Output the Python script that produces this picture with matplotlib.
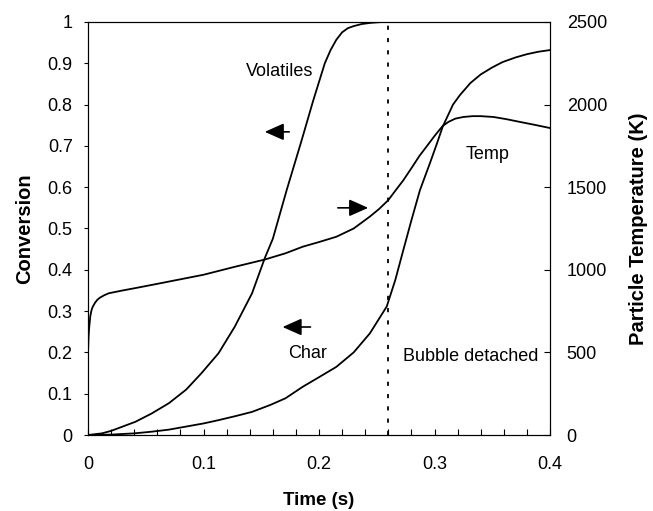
import numpy as np
import matplotlib
matplotlib.use('Agg')
from matplotlib import pyplot as plt

plt.rcParams['font.family'] = ['Liberation Sans', 'DejaVu Sans']
plt.rcParams['font.size'] = 13

# volatiles conversion (left axis)
vol_t = [0, 0.012, 0.02, 0.041, 0.055, 0.07, 0.085, 0.098, 0.113, 0.127, 0.142, 0.153,
         0.16, 0.172, 0.185, 0.195, 0.2, 0.205, 0.21, 0.215, 0.22, 0.225, 0.23, 0.237,
         0.245, 0.255, 0.4]
vol_x = [0, 0.004, 0.01, 0.032, 0.052, 0.077, 0.11, 0.149, 0.198, 0.262, 0.343, 0.428,
         0.475, 0.593, 0.714, 0.81, 0.855, 0.9, 0.932, 0.957, 0.975, 0.985, 0.99, 0.995,
         0.998, 1.0, 1.0]

# char conversion (left axis)
char_t = [0, 0.02, 0.04, 0.055, 0.07, 0.084, 0.1, 0.113, 0.128, 0.142, 0.158, 0.171,
          0.186, 0.2, 0.215, 0.23, 0.244, 0.2586, 0.266, 0.273, 0.28, 0.2874, 0.296,
          0.302, 0.307, 0.312, 0.316, 0.322, 0.331, 0.34, 0.35, 0.359, 0.37, 0.38,
          0.39, 0.4]
char_x = [0, 0.001, 0.004, 0.008, 0.013, 0.02, 0.028, 0.036, 0.046, 0.056, 0.073, 0.089,
          0.117, 0.14, 0.165, 0.2, 0.246, 0.311, 0.375, 0.448, 0.52, 0.593, 0.658,
          0.705, 0.746, 0.776, 0.8, 0.823, 0.852, 0.873, 0.89, 0.903, 0.914, 0.922,
          0.928, 0.932]

# particle temperature (right axis, K)
temp_t = [0, 0.0005, 0.001, 0.002, 0.003, 0.004, 0.006, 0.008, 0.01, 0.014, 0.018,
          0.03, 0.04, 0.06, 0.084, 0.1, 0.127, 0.153, 0.171, 0.186, 0.2, 0.215, 0.23,
          0.244, 0.252, 0.26, 0.266, 0.273, 0.28, 0.287, 0.293, 0.3, 0.307, 0.312,
          0.318, 0.325, 0.333, 0.34, 0.351, 0.362, 0.374, 0.387, 0.4]
temp_K = [500, 600, 650, 720, 755, 775, 800, 818, 830, 846, 858,
          875, 888, 915, 948, 970, 1018, 1062, 1100, 1140, 1168, 1200, 1250,
          1322, 1368, 1422, 1478, 1542, 1615, 1690, 1745, 1810, 1870, 1895,
          1915, 1925, 1930, 1930, 1925, 1912, 1895, 1877, 1858]

t_detach = 0.26

x_ticks = [0, 0.1, 0.2, 0.3, 0.4]
x_labels = ['0', '0.1', '0.2', '0.3', '0.4']
y_ticks = [0, 0.1, 0.2, 0.3, 0.4, 0.5, 0.6, 0.7, 0.8, 0.9, 1.0]
y_labels = ['0', '0.1', '0.2', '0.3', '0.4', '0.5', '0.6', '0.7', '0.8', '0.9', '1']
temp_ticks = [0, 500, 1000, 1500, 2000, 2500]

fig = plt.figure(figsize=(6.53, 5.11), dpi=100)
ax = fig.add_axes([0.1348, 0.1487, 0.7075, 0.8083])
ax2 = ax.twinx()

ax.plot(vol_t, vol_x, color='black', lw=1.3)
ax.plot(char_t, char_x, color='black', lw=1.3)
ax2.plot(temp_t, temp_K, color='black', lw=1.3)
ax.plot([t_detach, t_detach], [0, 1], color='black', lw=1.3, linestyle=(0, (2.3, 4.5)))

ax.set_xlim(0, 0.4)
ax.set_ylim(0, 1)
ax2.set_ylim(0, 2500)

ax.set_xticks(x_ticks, x_labels)
ax.set_xticks(np.arange(0, 0.401, 0.02), minor=True)
ax.set_yticks(y_ticks, y_labels)
ax2.set_yticks(temp_ticks, [str(v) for v in temp_ticks])

ax.tick_params(axis='x', which='both', direction='in', length=4, width=0.8, pad=15, top=False)
ax.tick_params(axis='y', which='major', direction='out', length=3, width=0.8, pad=8)
ax2.tick_params(axis='y', direction='in', length=4, width=0.8, pad=12)

ax.set_xlabel('Time (s)', fontweight='bold', fontsize=13.5, labelpad=14)
ax.set_ylabel('Conversion', fontweight='bold', fontsize=14.5, labelpad=10)
ax2.set_ylabel('Particle Temperature (K)', fontweight='bold', fontsize=14.5, labelpad=16)

# annotations
ax.text(0.166, 0.879, 'Volatiles', ha='center', va='center')
ax.text(0.346, 0.678, 'Temp', ha='center', va='center')
ax.text(0.19, 0.198, 'Char', ha='center', va='center')
ax.text(0.331, 0.19, 'Bubble detached', ha='center', va='center')

arrow = dict(arrowstyle='-|>,head_length=0.9,head_width=0.4', color='black', lw=1.2)
ax.annotate('', xy=(0.1506, 0.734), xytext=(0.1766, 0.734), arrowprops=arrow)
ax.annotate('', xy=(0.245, 0.55), xytext=(0.2139, 0.55), arrowprops=arrow)
ax.annotate('', xy=(0.166, 0.2615), xytext=(0.195, 0.2615), arrowprops=arrow)

plt.savefig('out.png', dpi=100)
